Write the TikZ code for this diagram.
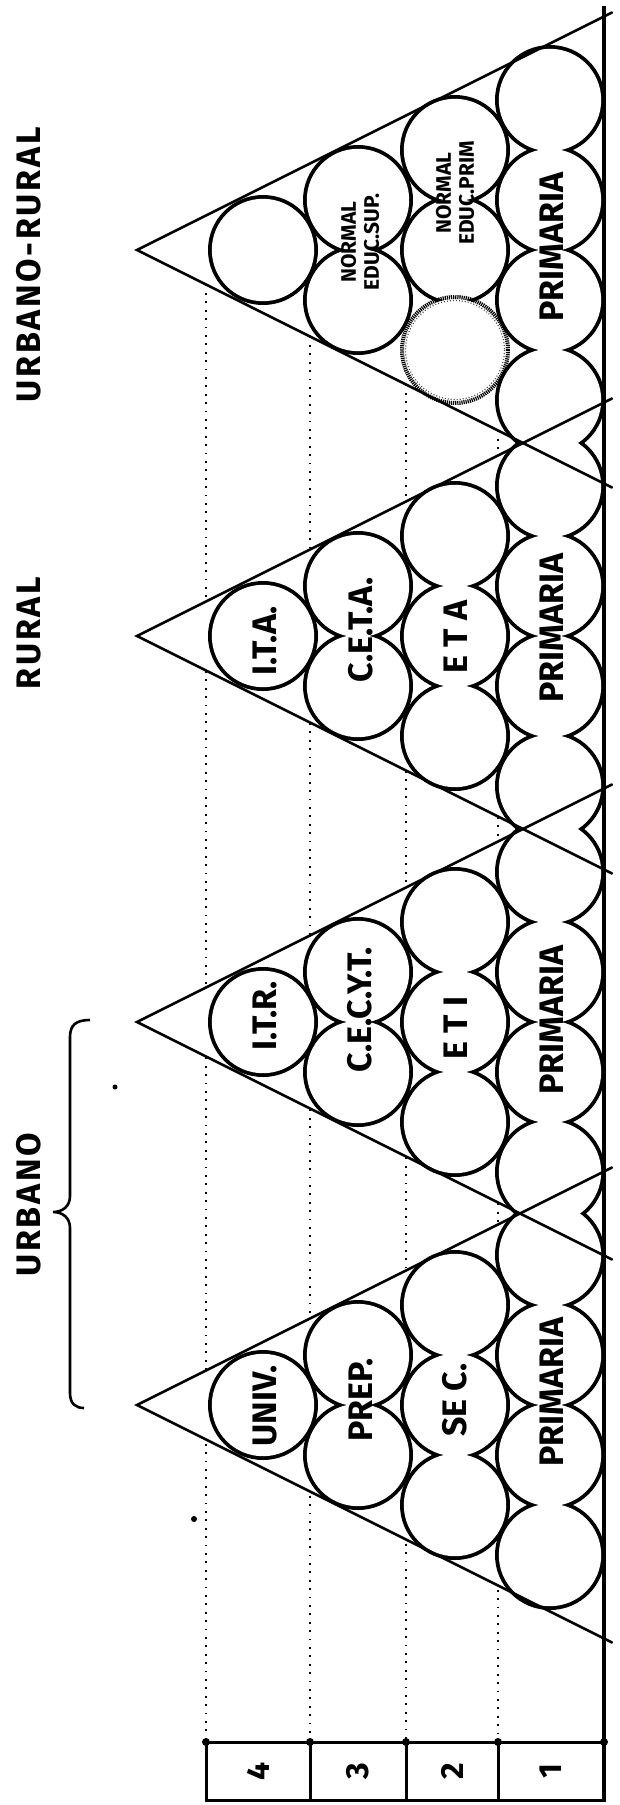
\documentclass[tikz,border=0pt]{standalone}
\usepackage{fontspec}
\setmainfont{Fira Sans}
\begin{document}
\begin{tikzpicture}[x=1pt,y=-1pt,
  side/.style={line width=2.5pt,line cap=round},
  ring/.style={line width=7.6pt},
  level/.style={line width=1.9pt,dash pattern=on 1.9pt off 6.5pt},
  tbl/.style={line width=3pt},
  head/.style={rotate=90,inner sep=0pt,font=\fontsize{34}{34}\selectfont\bfseries\addfontfeature{LetterSpace=8}},
  lbl/.style={rotate=90,inner sep=0pt,font=\fontsize{34}{34}\selectfont\bfseries},
  duo/.style={rotate=90,inner sep=0pt,align=center,font=\fontsize{21}{23}\selectfont\bfseries},
  num/.style={rotate=90,inner sep=0pt,font=\fontsize{32}{32}\selectfont\bfseries},
  speck/.style={fill=black}]
\useasboundingbox (0,0) rectangle (619,1805);
\fill[white] (0,0) rectangle (619,1805);

% level guides running up from the table
\foreach \lx/\ly in {206/284.5,310/336.5,406/384.5,498/430.5}
  \draw[level] (\lx,\ly) -- (\lx,1742);

% white bodies of the four pyramids
\foreach \Yc in {250,636,1022,1405}
  \fill[white] (137,\Yc) -- (604,\Yc-233.5) -- (604,\Yc+233.5) -- cycle;

% circles: thick strokes first, then white discs, leaving the outline of the union
\def\cells{263/0,358/-50,358/50,455/-100,455/0,455/100,550/-150,550/-50,550/50,550/150}
\foreach \Yc [count=\t] in {250,636,1022,1405}
  \foreach \cx/\dy [count=\k] in \cells {
    \ifnum\numexpr\t*100+\k\relax=106\else
      \draw[ring] (\cx,\Yc+\dy) circle[radius=51.2];
    \fi
  }
\foreach \Yc in {250,636,1022,1405}
  \foreach \cx/\dy in \cells
    \fill[white] (\cx,\Yc+\dy) circle[radius=51.2];

% stippled circle of the urbano-rural pyramid
\draw[line width=4pt,black,dash pattern=on 1.2pt off 0.9pt] (455,350) circle[radius=53];
\draw[line width=1.2pt,black!70,dash pattern=on 1pt off 2pt] (455,350) circle[radius=49.5];

% pyramid sides
\foreach \Yc [count=\t] in {250,636,1022,1405} {
  \coordinate (apex\t) at (137,\Yc);
  \coordinate (up\t) at (612,\Yc-237.5);
  \coordinate (dn\t) at (612,\Yc+237.5);
  \draw[side] (up\t) -- (apex\t) -- (dn\t);
}

% base line
\coordinate (btop) at (604,6);
\coordinate (bbot) at (604,1800);
\draw[line width=3.4pt] (btop) -- (bbot);

% level table
\coordinate (t4) at (206,1742);
\coordinate (t3) at (310,1742);
\coordinate (t2) at (406,1742);
\coordinate (t1) at (498,1742);
\coordinate (t0) at (604,1742);
\draw[tbl] (t4) rectangle (604,1800);
\draw[tbl] (t3) -- (310,1800) (t2) -- (406,1800) (t1) -- (498,1800);
\foreach \p in {t4,t3,t2,t1,t0} \fill (\p) circle[radius=4];
\node[num] (n4) at (258,1771) {4};
\node[num] (n3) at (358,1771) {3};
\node[num] (n2) at (452,1771) {2};
\node[num] (n1) at (551,1771) {1};

% headings
\node[head] (hur) at (29,265) {URBANO-RURAL};
\node[head] (hr) at (29,633) {RURAL};
\node[head] (hu) at (29,1205) {URBANO};

% brace grouping the two urban pyramids
\coordinate (bra) at (90,1020);
\coordinate (brtip) at (53,1212);
\coordinate (brb) at (84,1408);
\draw[line width=2.6pt] (bra) .. controls (76,1020) and (70,1025) .. (70,1037)
  -- (70,1196) .. controls (70,1206) and (63,1212) .. (brtip)
  .. controls (63,1212) and (70,1218) .. (70,1228)
  -- (70,1393) .. controls (70,1404) and (76,1408) .. (brb);

% urbano-rural pyramid
\node[duo] (nsup) at (360,242) {NORMAL\\EDUC.SUP.};
\node[duo] (nprim) at (455,193) {NORMAL\\EDUC.PRIM};
\node[lbl] (p1) at (552,247) {PRIMARIA};

% rural pyramid
\node[lbl] (ita) at (265,641) {I.T.A.};
\node[lbl] (ceta) at (361,630) {C.E.T.A.};
\node[lbl] (eta) at (456,637) {E T A};
\node[lbl] (p2) at (552,628) {PRIMARIA};

% urban technical pyramid
\node[lbl] (itr) at (265,1016) {I.T.R.};
\node[lbl] (cecyt) at (360,1010) {C.E.C.Y.T.};
\node[lbl] (eti) at (456,1028) {E T I};
\node[lbl] (p3) at (552,1020) {PRIMARIA};

% urban academic pyramid
\node[lbl] (univ) at (265,1406) {UNIV.};
\node[lbl] (prep) at (361,1400) {PREP.};
\node[lbl] (sec) at (455,1400) {SE C.};
\node[lbl] (p4) at (552,1392) {PRIMARIA};

% loose specks
\fill[speck] (115,1087) circle[radius=2.5];
\fill[speck] (194,1519) circle[radius=3];
\end{tikzpicture}
\end{document}
